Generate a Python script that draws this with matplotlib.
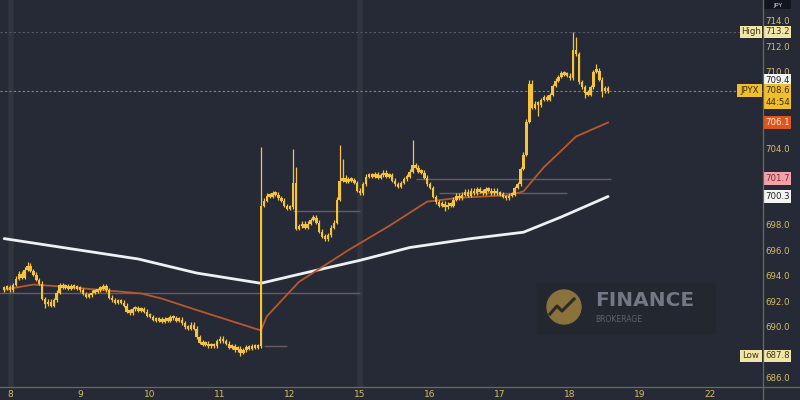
import matplotlib
matplotlib.use("Agg")
import matplotlib.pyplot as plt
from matplotlib.patches import Rectangle, Circle
from matplotlib.lines import Line2D
import numpy as np

# hourly closes, 2 bars before the 8th then 24 bars per trading day
closes = [
    693.1, 693.2, 693.0, 693.4, 693.9, 694.3, 694.0, 694.6, 694.9, 694.5, 694.2, 693.8,
    693.5, 692.3, 691.9, 692.1, 691.8, 692.2, 692.8, 693.4, 693.2, 693.3, 693.1, 693.3,
    693.2, 693.1, 693.0, 692.7, 692.5, 692.6, 692.8, 692.9, 693.0, 693.1, 693.3, 693.0,
    692.4, 692.2, 692.0, 692.1, 692.0, 691.8, 691.3, 691.2, 691.5, 691.6, 691.4, 691.5,
    691.3, 691.0, 690.9, 690.7, 690.6, 690.7, 690.5, 690.7, 690.6, 690.9, 690.8, 690.6,
    690.7, 690.4, 690.1, 690.0, 690.3, 690.0, 689.3, 688.9, 688.7, 688.8, 688.6, 688.7,
    688.6, 689.0, 689.2, 689.0, 688.8, 688.5, 688.6, 688.3, 688.4, 688.1, 688.3, 688.5,
    688.4, 688.6, 688.5, 688.6, 699.6, 700.0, 700.4, 700.3, 700.6, 700.5, 700.2, 700.0,
    699.6, 699.4, 699.5, 701.4, 697.8, 698.0, 698.2, 697.9, 698.2, 698.5, 698.7, 698.3,
    697.6, 697.2, 697.0, 697.3, 697.9, 698.3, 700.1, 701.6, 701.8, 701.5, 701.7, 701.6,
    701.4, 700.8, 700.6, 701.3, 701.9, 702.0, 701.9, 702.1, 701.8, 702.0, 702.2, 701.9,
    702.0, 701.6, 701.3, 701.1, 701.4, 701.7, 701.9, 702.3, 702.8, 702.6, 702.3, 702.2,
    701.8, 701.3, 701.0, 700.3, 699.9, 699.6, 699.8, 699.5, 699.7, 699.6, 700.1, 700.4,
    700.2, 700.5, 700.7, 700.4, 700.8, 700.6, 700.9, 700.7, 700.6, 700.9, 700.8, 700.6,
    700.8, 700.6, 700.5, 700.3, 700.2, 700.4, 700.5, 701.0, 701.3, 702.5, 703.6, 706.2,
    709.2, 707.3, 707.6, 707.5, 707.9, 708.1, 707.9, 708.3, 709.0, 709.4, 709.7, 710.0,
    709.9, 709.8, 709.6, 711.8, 711.5, 709.3, 708.9, 708.5, 708.3, 708.9, 710.1, 710.2,
    709.5, 708.6, 708.8, 708.6,
]
first_open = 693.0

# long wicks (bar index -> price)
wick_high = {8: 695.2, 88: 704.2, 99: 704.0, 100: 702.6, 115: 704.3, 116: 703.2,
             140: 704.7, 180: 709.4, 181: 709.4, 195: 713.2, 196: 712.8, 203: 710.7}
wick_low = {14: 691.6, 81: 687.8, 110: 696.8, 151: 699.2, 183: 706.6, 199: 708.0, 205: 708.1}

# moving averages (bar index, price)
slow_idx = [0, 46, 66, 88, 101, 122, 139, 160, 178, 191, 207]
slow_val = [697.0, 695.4, 694.3, 693.5, 694.2, 695.3, 696.3, 697.0, 697.5, 698.7, 700.3]
fast_idx = [0, 10, 22, 47, 54, 66, 77, 88, 90, 101, 118, 132, 145, 156, 173, 178, 185, 191, 196, 207]
fast_val = [693.0, 693.4, 693.2, 692.7, 692.3, 691.4, 690.6, 689.8, 690.9, 693.6, 696.1, 698.0,
            699.9, 700.2, 700.4, 700.7, 702.6, 703.9, 705.0, 706.1]

# drawn horizontal levels: (price, from bar, to bar)
levels = [(692.7, -2, 122), (699.2, 99, 122), (688.6, 89, 97), (701.7, 141, 208), (700.6, 149, 193)]

day_labels = ['8', '9', '10', '11', '12', '15', '16', '17', '18', '19', '22']
y_ticks = [686, 690, 692, 694, 696, 698, 704, 710, 712, 714]

last_price = 708.6
day_high = 713.2
day_low = 687.8

BG = '#262a36'
GOLD = '#f5c43a'
AXC = '#6c6a50'
TXT = '#d6bc66'

closes = np.array(closes)
x = np.arange(len(closes))
opens = np.r_[first_open, closes[:-1]]
highs = np.maximum(opens, closes) + 0.15
lows = np.minimum(opens, closes) - 0.15
for k, v in wick_high.items():
    highs[k] = v
for k, v in wick_low.items():
    lows[k] = v

fig = plt.figure(figsize=(8, 4), dpi=100, facecolor=BG)
ax = fig.add_axes([0, 13 / 400, 763 / 800, 387 / 400], facecolor=BG)
ylo, yhi = 685.37, 715.7
ax.set_xlim(-1.43, 260.1)
ax.set_ylim(ylo, yhi)

# session separators
for xs in [2.5, 122]:
    ax.axvline(xs, color='#30353f', lw=4, zorder=0)

# reference lines
ax.axhline(day_high, color='#555a66', lw=0.8, ls=(0, (2, 2)), zorder=1)
ax.axhline(last_price, color='#9c8540', lw=0.8, ls=(0, (2, 2)), zorder=1)
for p, a, b in levels:
    ax.hlines(p, a, b, color='#665c62', lw=1.0, zorder=1)

ax.plot(slow_idx, slow_val, color='#eef0f4', lw=2.0, zorder=2, solid_capstyle='round')
ax.plot(fast_idx, fast_val, color='#b8582c', lw=1.3, zorder=2)

ax.vlines(x, lows, highs, color=GOLD, lw=0.9, zorder=3)
ax.bar(x, np.maximum(np.abs(closes - opens), 0.22), bottom=np.minimum(opens, closes) - 0.05,
       width=0.85, color=GOLD, zorder=4)

for s in ax.spines.values():
    s.set_visible(False)
ax.set_yticks([])
ax.set_xticks([2 + 24 * k for k in range(len(day_labels))])
ax.set_xticklabels(day_labels, color=TXT, fontsize=6.5)
ax.tick_params(axis='x', length=0, pad=2)

# axis lines
fig.add_artist(Line2D([0, 1], [13 / 400, 13 / 400], color=AXC, lw=0.9))
fig.add_artist(Line2D([763 / 800, 763 / 800], [0, 1], color=AXC, lw=0.9))

# watermark
fig.add_artist(Rectangle((537 / 800, 67 / 400), 178 / 800, 50 / 400,
                         transform=fig.transFigure, color='#23272f', zorder=0.5))
fig.add_artist(Circle((5.64, 0.93), 0.17, transform=fig.dpi_scale_trans,
                      color='#8a723c', zorder=1))
fig.add_artist(Line2D([5.50, 5.57, 5.62, 5.74], [0.86, 0.94, 0.89, 1.01],
                      transform=fig.dpi_scale_trans, color='#2a2a2a', lw=2.2, zorder=1.1))
fig.text(0.806, 0.25, 'FINANCE', color='#737886', fontsize=14.5, fontweight='bold',
         ha='center', va='center', zorder=1)
fig.text(0.744, 0.2025, 'BROKERAGE', color='#5f6370', fontsize=5.5, ha='left',
         va='center', zorder=1)

# right price scale and tags
lab = fig.add_axes([730 / 800, 13 / 400, 70 / 800, 387 / 400], facecolor='none')
lab.set_xlim(730, 800)
lab.set_ylim(ylo, yhi)
lab.axis('off')
for v in y_ticks:
    lab.text(777.5, v, f'{v:.1f}', color=TXT, fontsize=6.2, ha='center', va='center', zorder=2)


def tag(x0, x1, y0, y1, fc):
    lab.add_patch(Rectangle((x0, y0), x1 - x0, y1 - y0, facecolor=fc, edgecolor='none', zorder=5))


def tag_text(xc, y, s, c, fs=6.2):
    lab.text(xc, y, s, color=c, fontsize=fs, ha='center', va='center', zorder=6)


h = 0.5
tag(740, 762, day_high - h, day_high + h, '#f2e6a6')
tag(764, 791, day_high - h, day_high + h, '#f2e6a6')
tag_text(751, day_high, 'High', '#3a3520')
tag_text(777.5, day_high, f'{day_high:.1f}', '#3a3520')

tag(764, 791, 709.4 - h, 709.4 + h, '#f4f4f4')
tag_text(777.5, 709.4, '709.4', '#222')

tag(737, 762, last_price - h, last_price + h, '#f1bf2c')
tag_text(749.5, last_price, 'JPYX', '#3a2e10')
tag(764, 791, last_price - 1.45, last_price + h, '#f1bf2c')
tag_text(777.5, last_price, f'{last_price:.1f}', '#3a2e10')
tag_text(777.5, last_price - 0.95, '44:54', '#3a2e10')

tag(764, 791, 706.1 - h, 706.1 + h, '#df561c')
tag_text(777.5, 706.1, '706.1', '#fde8d8')

tag(764, 791, 701.7 - h, 701.7 + h, '#f2a3a9')
tag_text(777.5, 701.7, '701.7', '#8a2533')

tag(764, 791, 700.3 - h, 700.3 + h, '#f4f4f4')
tag_text(777.5, 700.3, '700.3', '#222')

tag(740, 762, day_low - h, day_low + h, '#f2e6a6')
tag(764, 791, day_low - h, day_low + h, '#f2e6a6')
tag_text(751, day_low, 'Low', '#3a3520')
tag_text(777.5, day_low, f'{day_low:.1f}', '#3a3520')

tag(764, 791, 715.0, 716.3, '#12151d')
tag_text(777.5, 715.3, 'JPY', '#dddddd', fs=4.5)

fig.savefig('out.png', dpi=100, facecolor=BG)
